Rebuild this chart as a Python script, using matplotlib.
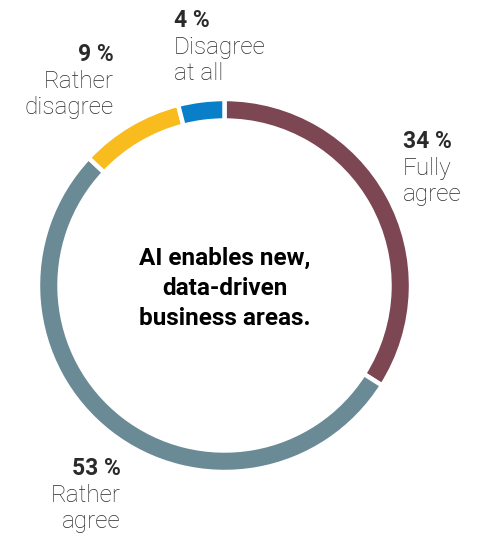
import matplotlib
matplotlib.use("Agg")
import matplotlib.pyplot as plt

# Survey shares, drawn clockwise from 12 o'clock
categories = ["Fully agree", "Rather agree", "Rather disagree", "Disagree at all"]
shares = [34, 53, 9, 4]
colors = ["#7C4653", "#6A8A96", "#F8BC1E", "#0A7FC9"]

W, H = 481, 538
fig = plt.figure(figsize=(W / 100, H / 100), dpi=100)
ax = fig.add_axes([0, 0, 1, 1])

cx, cy, r = 224.5, H - 285.5, 186.5
ax.pie(shares, colors=colors, startangle=90, counterclock=False,
       center=(cx, cy), radius=r,
       wedgeprops=dict(width=21.5, edgecolor="white", linewidth=3.2))
ax.set_xlim(0, W)
ax.set_ylim(0, H)
ax.set_aspect("equal")
ax.axis("off")

txt = "#2a2a2a"
fam = ["Roboto", "DejaVu Sans"]
fs_pct = 16.5
fs_desc = 17.5
fs_center = 17.5


def label(x, y_base, pct, lines, ha):
    ax.text(x, H - y_base, f"{pct} %", ha=ha, va="baseline", fontsize=fs_pct,
            fontweight="bold", color=txt, family=fam)
    for i, line in enumerate(lines):
        ax.text(x, H - (y_base + 26.5 * (i + 1)), line, ha=ha, va="baseline",
                fontsize=fs_desc, fontweight="light", color=txt, family=fam)


label(403, 148, shares[0], ["Fully", "agree"], "left")
label(121, 475, shares[1], ["Rather", "agree"], "right")
label(114, 61, shares[2], ["Rather", "disagree"], "right")
label(174, 27, shares[3], ["Disagree", "at all"], "left")

center_lines = ["AI enables new,", "data-driven", "business areas."]
for i, line in enumerate(center_lines):
    ax.text(cx, H - (265 + 30 * i), line, ha="center", va="baseline",
            fontsize=fs_center, fontweight="bold", color="black", family=fam)

fig.savefig("out.png", dpi=100)
